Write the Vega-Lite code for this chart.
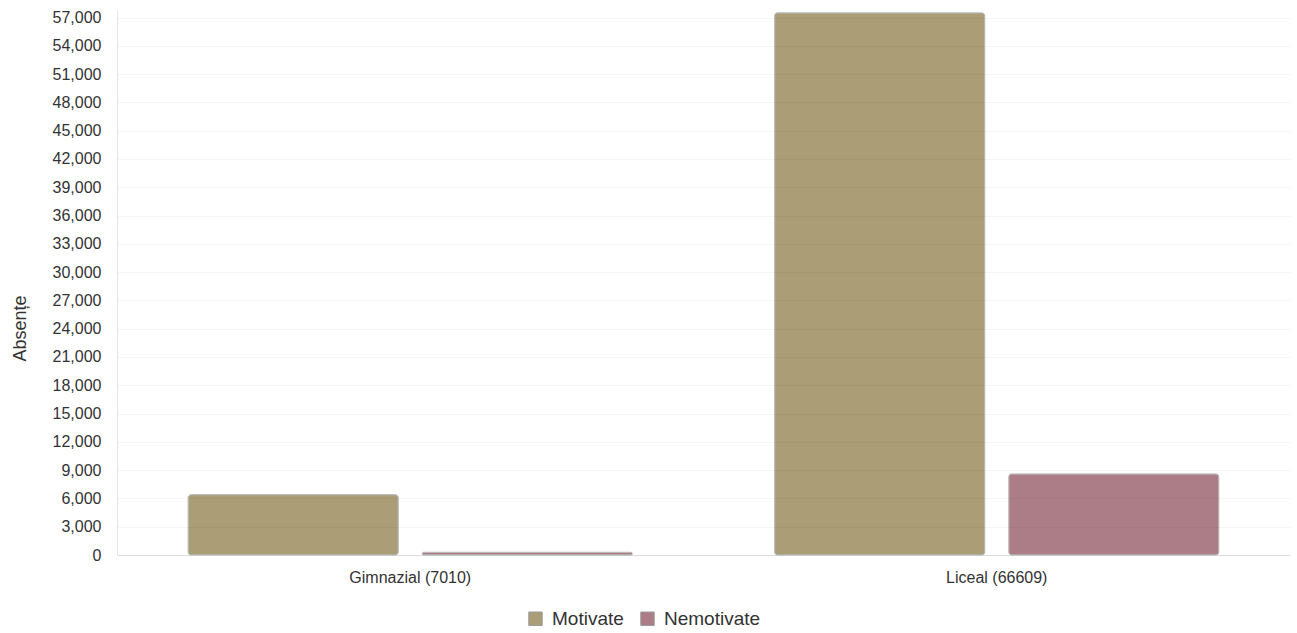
{
  "$schema": "https://vega.github.io/schema/vega-lite/v6.json",
  "width": 1173,
  "height": 545,
  "autosize": {"type": "none"},
  "padding": {"left": 117, "top": 10, "right": 7, "bottom": 78},
  "background": "white",
  "config": {
    "view": {"stroke": null},
    "font": "Liberation Sans"
  },
  "data": {
    "values": [
      {"nivel": "Gimnazial (7010)", "tip": "Motivate", "absente": 6400},
      {"nivel": "Gimnazial (7010)", "tip": "Nemotivate", "absente": 290},
      {"nivel": "Liceal (66609)", "tip": "Motivate", "absente": 57500},
      {"nivel": "Liceal (66609)", "tip": "Nemotivate", "absente": 8600}
    ]
  },
  "mark": {"type": "bar", "cornerRadius": 3, "stroke": "#b5b5b5", "strokeWidth": 1},
  "encoding": {
    "x": {
      "field": "nivel", "type": "nominal", "title": null,
      "scale": {"paddingInner": 0, "paddingOuter": 0},
      "axis": {"labelAngle": 0, "labelFontSize": 16, "labelColor": "#333333", "ticks": false, "labelPadding": 14, "domainColor": "#e6e6e6", "grid": false}
    },
    "xOffset": {"field": "tip", "type": "nominal", "scale": {"paddingInner": 0.1026, "paddingOuter": 0.304}},
    "y": {
      "field": "absente", "type": "quantitative", "title": "Absențe",
      "scale": {"domain": [0, 57800], "nice": false},
      "axis": {
        "values": [0, 3000, 6000, 9000, 12000, 15000, 18000, 21000, 24000, 27000, 30000, 33000, 36000, 39000, 42000, 45000, 48000, 51000, 54000, 57000],
        "format": ",d", "ticks": false, "labelPadding": 16, "labelFontSize": 16, "labelColor": "#333333",
        "titleFontSize": 18, "titleFontWeight": "normal", "titleColor": "#333333",
        "titleX": -97, "titleY": 318, "titleAlign": "center", "titleBaseline": "middle", "titleAngle": -90,
        "domainColor": "#e6e6e6", "grid": true, "gridColor": "#000000", "gridOpacity": 0.035, "zindex": 1
      }
    },
    "color": {
      "field": "tip", "type": "nominal", "title": null,
      "scale": {"domain": ["Motivate", "Nemotivate"], "range": ["#ab9d76", "#ad7d87"]},
      "legend": {
        "orient": "none", "direction": "horizontal", "legendX": 409, "legendY": 599,
        "symbolType": "square", "symbolSize": 180, "symbolStrokeColor": "#999999", "symbolStrokeWidth": 1,
        "labelFontSize": 19, "labelColor": "#333333", "columnPadding": 14, "symbolOpacity": 1, "labelOffset": 7
      }
    }
  }
}
